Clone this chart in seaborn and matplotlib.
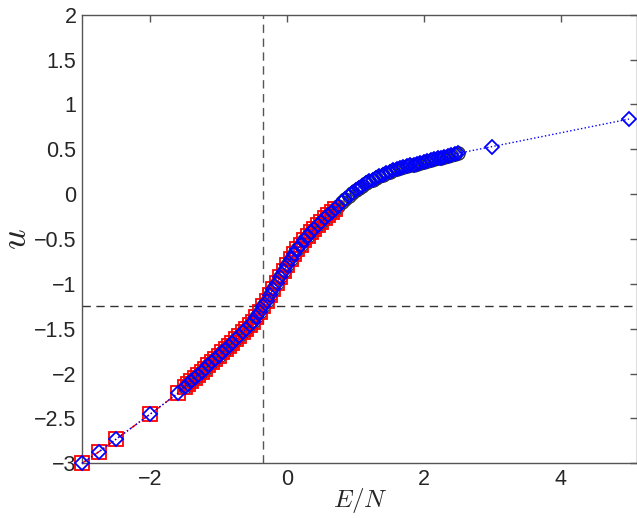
import numpy as np
import pandas as pd
import matplotlib
matplotlib.use("Agg")
import matplotlib.pyplot as plt
import seaborn as sns

####### data
# sparse points at the low energy end
E_low = [-3.0, -2.75, -2.5, -2.0, -1.6]
u_low = [-3.0, -2.87, -2.73, -2.45, -2.22]

# dense part of the curve
E_dense = [-1.50, -1.45, -1.40, -1.35, -1.30, -1.25, -1.20, -1.15, -1.10, -1.05,
           -1.00, -0.95, -0.90, -0.85, -0.80, -0.75, -0.70, -0.65, -0.60, -0.55,
           -0.50, -0.45, -0.40, -0.35, -0.30, -0.25, -0.20, -0.15, -0.10, -0.05,
           0.00, 0.05, 0.10, 0.15, 0.20, 0.25, 0.30, 0.35, 0.40, 0.45,
           0.50, 0.55, 0.60, 0.65, 0.70, 0.75, 0.80, 0.85, 0.90, 0.95,
           1.00, 1.05, 1.10, 1.15, 1.20, 1.25, 1.30, 1.35, 1.40, 1.45,
           1.50, 1.55, 1.60, 1.65, 1.70, 1.75, 1.80, 1.85, 1.90, 1.95,
           2.00, 2.05, 2.10, 2.15, 2.20, 2.25, 2.30, 2.35, 2.40, 2.45, 2.50]
u_dense = [-2.150, -2.117, -2.083, -2.049, -2.015, -1.980, -1.945, -1.909, -1.873, -1.837,
           -1.800, -1.765, -1.729, -1.693, -1.656, -1.619, -1.581, -1.542, -1.502, -1.461,
           -1.420, -1.366, -1.309, -1.249, -1.186, -1.121, -1.055, -0.989, -0.922, -0.856,
           -0.790, -0.728, -0.670, -0.615, -0.563, -0.514, -0.468, -0.425, -0.384, -0.345,
           -0.308, -0.271, -0.234, -0.198, -0.162, -0.127, -0.092, -0.058, -0.024, 0.009,
           0.042, 0.070, 0.096, 0.120, 0.142, 0.163, 0.182, 0.200, 0.218, 0.235,
           0.252, 0.264, 0.276, 0.287, 0.298, 0.309, 0.320, 0.330, 0.340, 0.350,
           0.360, 0.370, 0.379, 0.389, 0.398, 0.408, 0.417, 0.427, 0.436, 0.446, 0.455]

# extra points only in the blue series
E_high = [3.0, 5.0]
u_high = [0.53, 0.837]

# red series stops here
E_red_max = 0.70

# crossing point marked by the dashed lines
E_mark = -0.35
u_mark = -1.25

x_ticks = [-2, 0, 2, 4]
y_ticks = [-3, -2.5, -2, -1.5, -1, -0.5, 0, 0.5, 1, 1.5, 2]

####### build the series
blue = pd.DataFrame({"E": E_low + E_dense + E_high, "u": u_low + u_dense + u_high})
red = pd.DataFrame({"E": E_low + E_dense, "u": u_low + u_dense})
red = red[red["E"] <= E_red_max + 1e-9]
black = pd.DataFrame({"E": E_dense, "u": u_dense})

####### plot
sns.set_style("white")
plt.rcParams["font.family"] = ["Liberation Sans", "DejaVu Sans"]
plt.rcParams["mathtext.fontset"] = "cm"

fig = plt.figure(figsize=(6.37, 5.18), dpi=100)
ax = fig.add_axes([82 / 637, 1 - 463.3 / 518, 1 - 82 / 637, (463.3 - 14.7) / 518])

# dashed guide lines
ax.axvline(E_mark, color="#555555", ls=(0, (6, 4)), lw=1.0, zorder=1)
ax.axhline(u_mark, color="#333333", ls=(0, (6, 4)), lw=1.0, zorder=1)

# markers are not clipped at the axes box (like the original)
sns.lineplot(data=black, x="E", y="u", ax=ax, sort=False, estimator=None,
             linestyle="none", marker="o", markersize=9.5, markerfacecolor="none",
             markeredgecolor="#333333", markeredgewidth=1.0, zorder=2, clip_on=False)
sns.lineplot(data=red, x="E", y="u", ax=ax, sort=False, estimator=None,
             color="red", linestyle="-.", lw=1.0, marker="s", markersize=9.5,
             markerfacecolor="none", markeredgecolor="red", markeredgewidth=1.3,
             zorder=3, clip_on=False)
sns.lineplot(data=blue, x="E", y="u", ax=ax, sort=False, estimator=None,
             color="blue", linestyle=":", lw=1.0, marker="D", markersize=7.5,
             markerfacecolor="none", markeredgecolor="blue", markeredgewidth=1.3,
             zorder=4, clip_on=False)

ax.set_xlim(-3, 5.117)
ax.set_ylim(-3, 2)
ax.set_xticks(x_ticks)
ax.set_yticks(y_ticks)
ax.set_yticklabels([("%g" % t).replace("-", "\u2212") for t in y_ticks])
ax.set_xticklabels([("%g" % t).replace("-", "\u2212") for t in x_ticks])
ax.tick_params(direction="in", length=5, width=1, top=True, right=True,
               labelsize=15.5, color="#555555", pad=4)
for s in ax.spines.values():
    s.set_color("#555555")
    s.set_linewidth(1.0)

ax.set_xlabel("$E/N$", fontsize=18, va="baseline")
ax.xaxis.set_label_coords((360 - 82) / 555, (463.3 - 507) / 448.6)
ax.set_ylabel("$u$", fontsize=26, rotation=90, va="center", ha="center")
ax.yaxis.set_label_coords((16 - 82) / 555, 0.5)

fig.savefig("out.png", dpi=100)
